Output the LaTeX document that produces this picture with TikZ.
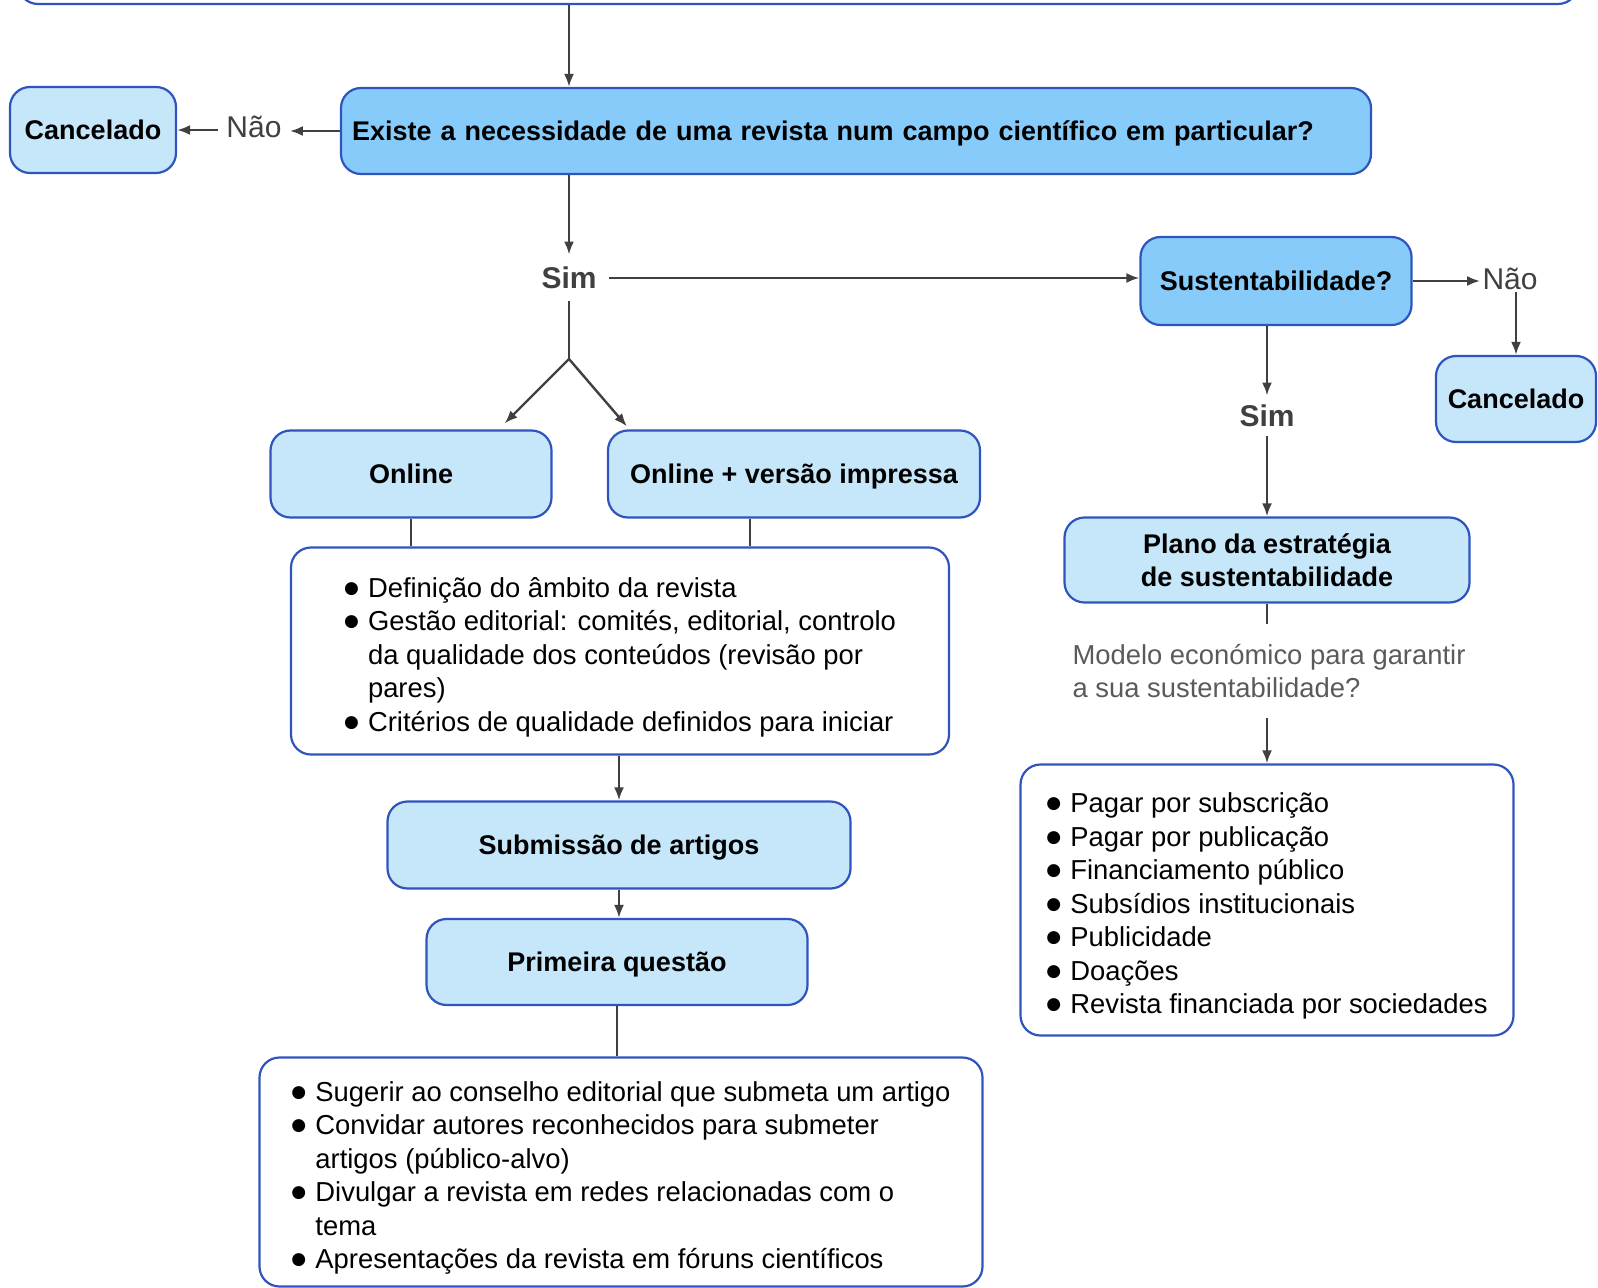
\documentclass[tikz,border=0pt]{standalone}
\usepackage{fontspec}
\setmainfont{Liberation Sans}
\newfontfamily\dotfont{DejaVu Sans}
\usepackage{tikz}
\usetikzlibrary{shapes, arrows, arrows.meta}
\definecolor{bordo}{RGB}{48,84,190}
\definecolor{forte}{RGB}{135,203,250}
\definecolor{claro}{RGB}{198,230,250}
\definecolor{cinza}{RGB}{64,64,64}
\definecolor{suave}{RGB}{90,90,90}
\newcommand{\bl}{\makebox[12pt][l]{\raisebox{2pt}{\dotfont\fontsize{8.5}{8.5}\selectfont ●}}}
\newcommand{\ind}{\hspace*{12pt}}
\newcommand{\topstrut}{\rule{0pt}{16pt}}
\tikzstyle{question} = [rectangle, draw=bordo, line width=1.1pt, rounded corners=10pt, fill=forte, inner xsep=5.5pt, text height=12pt, text depth=2.5pt, font=\bfseries\fontsize{13.5}{16.5}\selectfont]
\tikzstyle{choice}   = [rectangle, draw=bordo, line width=1.1pt, rounded corners=10pt, fill=claro, align=center, text height=12pt, text depth=2.5pt, font=\bfseries\fontsize{13.5}{16.5}\selectfont]
\tikzstyle{listbox}  = [rectangle, draw=bordo, line width=1.1pt, rounded corners=10pt, fill=white, align=left, font=\fontsize{13.7}{16.75}\selectfont]
\tikzstyle{answer}   = [text=cinza, inner sep=6pt, font=\fontsize{15}{18}\selectfont]
\tikzstyle{single}   = [draw=cinza, line width=1.2pt, -{Latex[length=6.5pt, width=5pt]}]
\tikzstyle{link}     = [draw=cinza, line width=1.2pt]

\begin{document}
\begin{tikzpicture}[x=0.5pt, y=-0.5pt]
    \useasboundingbox (0,0) rectangle (1598,1288);
    \node[listbox, minimum width=780pt, minimum height=45pt] (top) at (798,-41) {};
    \node[question, text width=504pt, align=left, minimum height=43pt] (q) at (856,131) {Existe a necessidade de uma revista num campo científico em particular?};
    \node[choice, minimum width=83pt, minimum height=43pt] (cancL) at (93,130) {Cancelado};
    \node[answer, inner xsep=4pt] (naoL) at (254,127) {Não};
    \node[answer, font=\bfseries\fontsize{15}{18}\selectfont] (sim1) at (569,278) {Sim};
    \node[question, minimum width=135.5pt, minimum height=44pt] (sust) at (1276,281) {Sustentabilidade?};
    \node[answer, inner sep=1pt] (naoR) at (1510,279) {Não};
    \node[choice, minimum width=80pt, minimum height=43pt] (cancR) at (1516,399) {Cancelado};
    \node[answer, inner sep=4.5pt, font=\bfseries\fontsize{15}{18}\selectfont] (sim2) at (1267,416) {Sim};
    \coordinate (fork) at (569,359);

    % ramo principal
    \node[choice, minimum width=140.5pt, minimum height=43.5pt] (online) at (411,474) {Online};
    \node[choice, minimum width=186pt, minimum height=43.5pt] (onlineP) at (794,474) {Online + versão impressa};
    \node[listbox, minimum width=329pt, minimum height=103.5pt] (list1) at (620,651) {%
        \topstrut\bl Definição do âmbito da revista\\
        \bl Gestão editorial: comités, editorial, controlo\\
        \ind da qualidade dos conteúdos (revisão por\\
        \ind pares)\\
        \bl Critérios de qualidade definidos para iniciar};
    \node[choice, minimum width=231.5pt, minimum height=43.5pt] (subm) at (619,845) {Submissão de artigos};
    \node[choice, minimum width=190.5pt, minimum height=43pt] (prim) at (617,962) {Primeira questão};
    \node[listbox, minimum width=361.5pt, minimum height=114.5pt] (list2) at (621,1172) {%
        \topstrut\bl Sugerir ao conselho editorial que submeta um artigo\\
        \bl Convidar autores reconhecidos para submeter\\
        \ind artigos (público-alvo)\\
        \bl Divulgar a revista em redes relacionadas com o\\
        \ind tema\\
        \bl Apresentações da revista em fóruns científicos};

    % ramo da sustentabilidade
    \node[choice, text height=, text depth=, minimum width=202.5pt, minimum height=42.5pt] (plano) at (1267,560) {Plano da estratégia\\de sustentabilidade};
    \node[text=suave, align=left, inner sep=0pt, minimum height=47pt, font=\fontsize{13.7}{16.75}\selectfont] (modelo) at (1269,671) {Modelo económico para garantir\\a sua sustentabilidade?};
    \node[listbox, minimum width=246.5pt, minimum height=135.5pt] (list3) at (1267,900) {%
        \topstrut\bl Pagar por subscrição\\
        \bl Pagar por publicação\\
        \bl Financiamento público\\
        \bl Subsídios institucionais\\
        \bl Publicidade\\
        \bl Doações\\
        \bl Revista financiada por sociedades};

    \path[single] (top.south -| sim1) -- (q.north -| sim1);
    \path[single] (q.west) -- (q.west -| naoL.east);
    \path[single] (naoL.west |- cancL.east) -- (cancL.east);
    \path[single] (q.south -| sim1) -- (sim1.north);
    \path[single] (sim1.east) -- (sim1.east -| sust.west);
    \path[link] (sim1.south) -- (fork);
    \path[single] (fork) -- ([xshift=-24pt, yshift=3pt]online.north east);
    \path[single] (fork) -- ([xshift=10pt, yshift=1.5pt]onlineP.north west);
    \coordinate (pfoot) at ([xshift=-22pt]onlineP.south);
    \path[link] (online.south) -- (online.south |- list1.north);
    \path[link] (pfoot) -- (pfoot |- list1.north);
    \path[single] (list1.south -| subm.north) -- (subm.north);
    \path[single] (subm.south) -- (subm.south |- prim.north);
    \path[link] (prim.south) -- (prim.south |- list2.north);
    \path[single] (sust.east) -- (sust.east -| naoR.west);
    \path[single] (naoR.south -| cancR.north) -- (cancR.north);
    \path[single] (sim2.north |- sust.south) -- (sim2.north);
    \path[single] (sim2.south) -- (plano.north);
    \path[link] (plano.south) -- (plano.south |- modelo.north);
    \path[single] (list3.north |- modelo.south) -- (list3.north);
\end{tikzpicture}
\end{document}
